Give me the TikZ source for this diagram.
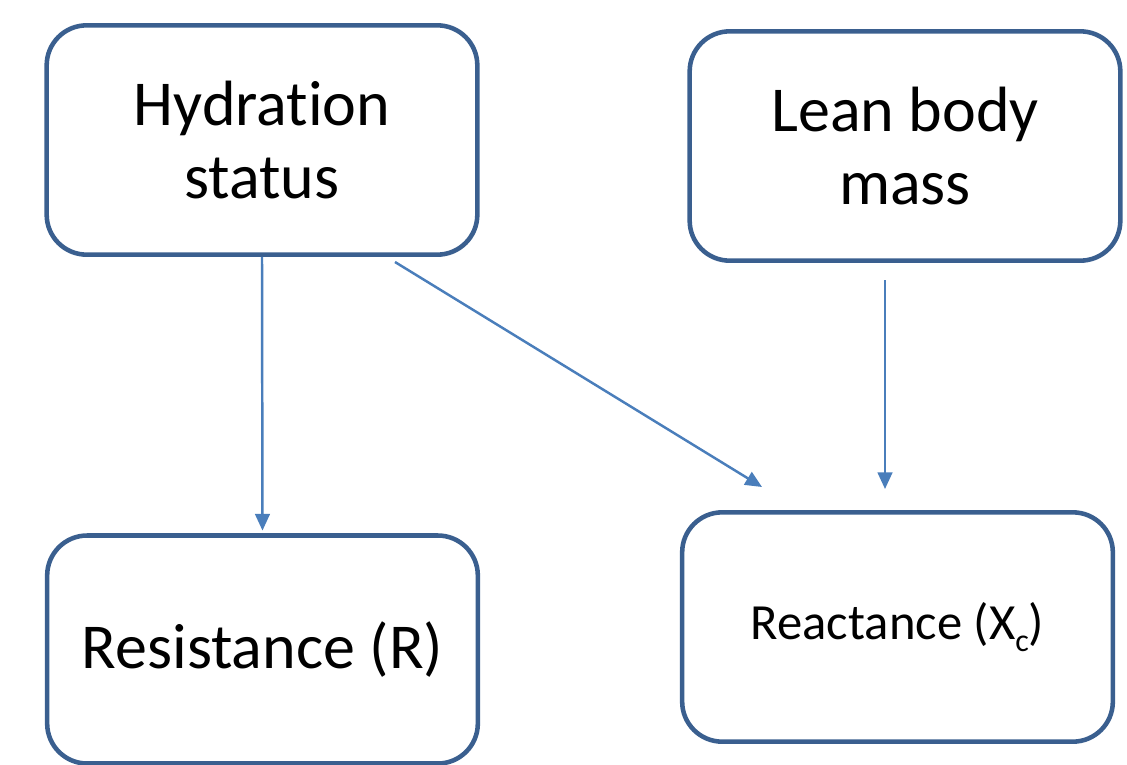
\documentclass[tikz,border=0pt]{standalone}
\usepackage{fontspec}
\setmainfont{Carlito}[Ligatures=NoCommon]
\usetikzlibrary{arrows.meta,calc}
\definecolor{boxblue}{HTML}{3A5F8F}
\definecolor{arrowblue}{HTML}{4A7EBB}
\newcommand{\lowsub}[1]{\raisebox{-0.22em}{\fontsize{24}{24}\selectfont #1}}
\tikzset{
	factor/.style={draw=boxblue, line width=1.2mm, rounded corners=30pt, minimum width=323pt, minimum height=172pt, align=center, inner sep=0pt},
	link/.style={draw=arrowblue, line width=0.65mm, -{Triangle[length=12.5pt,width=11pt]}}
}

\begin{document}
\begin{tikzpicture}[x=0.75pt, y=-0.75pt]
	%%%%% START %%%%%
	
	\useasboundingbox (0, 0) rectangle (1127, 764);
	
	\node[factor, font=\fontsize{48}{55}\selectfont] (hyd) at (262, 140) {Hydration\\status};
	\node[factor, font=\fontsize{48}{55}\selectfont] (lbm) at (905, 146) {Lean body\\mass};
	\node[factor, font=\fontsize{48}{55}\selectfont, minimum height=171pt] (res) at (262.5, 649.5) {Resistance (R)};
	\node[factor, font=\fontsize{38}{44}\selectfont] (rea) at (897.5, 627) {Reactance (X\lowsub{c})};
	
	\coordinate (diagfrom) at (395, 262);
	\coordinate (diagto) at (762, 487);
	\coordinate (lbmfrom) at (885, 280);
	\coordinate (lbmto) at (885, 489);
	
	\draw[link, shorten >=2pt] (hyd.south) -- (res.north);
	\draw[link] (diagfrom) -- (diagto);
	\draw[link] (lbmfrom) -- (lbmto);
	
	%%%%% END %%%%%
\end{tikzpicture}
\end{document}
